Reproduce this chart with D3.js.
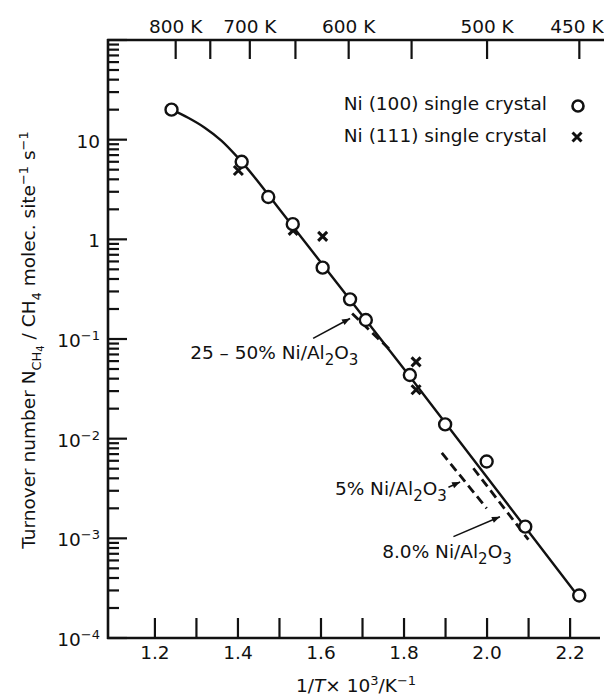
<!DOCTYPE html>
<html>
<head>
<meta charset="utf-8">
<script src="https://cdn.jsdelivr.net/npm/d3@7"></script>
<style>
body { margin: 0; background: #fff; }
svg text { font-family: "DejaVu Sans", sans-serif; font-size: 18.5px; fill: #111; }
</style>
</head>
<body>
<div class="container"></div>
<script>
const width = 604, height = 695;

// Ni (100) single crystal, 1/T x 10^3 and turnover number
const ni100X = [1.240, 1.409, 1.473, 1.532, 1.604, 1.670, 1.708, 1.814, 1.899, 1.999, 2.092, 2.222];
const ni100Y = [20, 6.0, 2.66, 1.42, 0.52, 0.25, 0.155, 0.0435, 0.0139, 0.0059, 0.00131, 0.000267];
// Ni (111) single crystal
const ni111X = [1.401, 1.533, 1.604, 1.829, 1.829];
const ni111Y = [4.9, 1.23, 1.07, 0.059, 0.031];
// smooth line drawn through the crystal data
const fitX = [1.24, 1.28, 1.32, 1.36, 1.40, 1.44, 1.50, 1.80, 2.22];
const fitY = [20, 16.6, 13.2, 9.8, 6.6, 4.2, 2.0, 0.050, 0.00026];
// supported catalysts, dashed segments
const suppNames = ["25 – 50% Ni/Al", "5% Ni/Al", "8.0% Ni/Al"];
const suppX = [[1.675, 1.766], [1.891, 1.999], [1.967, 2.0995]];
const suppY = [[0.180, 0.078], [0.0072, 0.0020], [0.00505, 0.00097]];
// where the labels end and where their arrows start / point (data units)
const labelX = [1.690, 1.903, 2.0595];
const labelY = [0.0625, 0.00273, 0.000634];
const arrowFromX = [1.581, 1.907, 1.919];
const arrowFromY = [0.1014, 0.00326, 0.00104];
const arrowToX = [1.670, 1.935, 2.031];
const arrowToY = [0.1607, 0.00368, 0.00165];

// axes
const xTicks = d3.range(12, 23).map(d => d / 10);
const xLabels = [1.2, 1.4, 1.6, 1.8, 2.0, 2.2];
const tempTicks = [800, 750, 700, 650, 600, 550, 500, 450];
const tempLabels = [800, 700, 600, 500, 450];
const yExp = [-4, -3, -2, -1, 0, 1, 2];
const yLabelExp = [-4, -3, -2, -1, 0, 1];

const mLeft = 108, mRight = 600, mTop = 40, mBottom = 638;

const svg = d3.select(".container")
    .append("svg")
    .attr("width", width)
    .attr("height", height);

const x = d3.scaleLinear().domain([1.087, 2.272]).range([mLeft, mRight]);
const y = d3.scaleLog().domain([1e-4, 1e2]).range([mBottom, mTop]);

svg.append("defs").append("marker")
    .attr("id", "arrow")
    .attr("viewBox", "0 0 10 10")
    .attr("refX", 10).attr("refY", 5)
    .attr("markerWidth", 9).attr("markerHeight", 8)
    .attr("markerUnits", "userSpaceOnUse")
    .attr("orient", "auto")
    .append("path")
    .attr("d", "M0,1 L10,5 L0,9 z")
    .attr("fill", "#111");

// text with sub/superscripts: parts = [text, size, baseline shift, italic]
function richText(sel, parts) {
    let prev = 0;
    parts.forEach(([t, size, shift, italic]) => {
        sel.append("tspan")
            .attr("dy", shift - prev)
            .style("font-size", size + "px")
            .style("font-style", italic ? "italic" : null)
            .text(t);
        prev = shift;
    });
    return sel;
}

// frame
const frame = svg.append("g").attr("stroke", "#111").attr("stroke-width", 2.6).attr("fill", "none");
frame.append("line").attr("x1", mLeft).attr("x2", mLeft).attr("y1", mTop - 1).attr("y2", mBottom + 1);
frame.append("line").attr("x1", mLeft - 1).attr("x2", width).attr("y1", mTop).attr("y2", mTop);
frame.append("line").attr("x1", mLeft - 1).attr("x2", mRight).attr("y1", mBottom).attr("y2", mBottom);

// bottom ticks
svg.append("g").selectAll("line").data(xTicks).join("line")
    .attr("x1", d => x(d)).attr("x2", d => x(d))
    .attr("y1", mBottom).attr("y2", mBottom - 20)
    .attr("stroke", "#111").attr("stroke-width", 2.2);
svg.append("g").selectAll("text").data(xLabels).join("text")
    .attr("x", d => x(d)).attr("y", 659)
    .attr("text-anchor", "middle")
    .text(d3.format(".1f"));

// top temperature ticks
svg.append("g").selectAll("line").data(tempTicks).join("line")
    .attr("x1", d => x(1000 / d)).attr("x2", d => x(1000 / d))
    .attr("y1", mTop).attr("y2", mTop + 19)
    .attr("stroke", "#111").attr("stroke-width", 2.2);
svg.append("g").selectAll("text").data(tempLabels).join("text")
    .attr("x", d => Math.min(x(1000 / d), width - 27)).attr("y", 33)
    .attr("text-anchor", "middle")
    .text(d => d + " K");

// left log ticks
const minor = [];
yExp.slice(0, -1).forEach(e => d3.range(2, 10).forEach(m => minor.push(m * Math.pow(10, e))));
svg.append("g").selectAll("line").data(minor).join("line")
    .attr("x1", mLeft).attr("x2", mLeft + 11)
    .attr("y1", d => y(d)).attr("y2", d => y(d))
    .attr("stroke", "#111").attr("stroke-width", 2.2);
svg.append("g").selectAll("line").data(yExp).join("line")
    .attr("x1", mLeft).attr("x2", mLeft + 19)
    .attr("y1", d => y(Math.pow(10, d))).attr("y2", d => y(Math.pow(10, d)))
    .attr("stroke", "#111").attr("stroke-width", 2.2);
svg.append("g").selectAll("text").data(yLabelExp).join("text")
    .attr("x", 100).attr("y", d => y(Math.pow(10, d)) + 8)
    .attr("text-anchor", "end")
    .each(function (d) {
        const t = d3.select(this);
        if (d === 0) t.text("1");
        else if (d === 1) t.text("10");
        else richText(t, [["10", 18.5, 0], ["−" + (-d), 13, -7]]);
    });

// axis titles
richText(svg.append("text")
    .attr("x", 356).attr("y", 692)
    .attr("text-anchor", "middle"),
    [["1/", 18.5, 0], ["T", 18.5, 0, true], ["× 10", 18.5, 0], ["3", 13, -7], ["/K", 18.5, 0], ["−1", 13, -7]]);

richText(svg.append("text")
    .attr("transform", "translate(35,340) rotate(-90)")
    .attr("text-anchor", "middle"),
    [["Turnover number N", 18.5, 0], ["CH", 13, 6], ["4", 10, 9], [" / CH", 18.5, 0], ["4", 13, 6],
     [" molec. site", 18.5, 0], ["−1", 13, -7], [" s", 18.5, 0], ["−1", 13, -7]]);

// fitted curve
const fit = fitX.map((d, i) => [d, fitY[i]]);
svg.append("path")
    .datum(fit)
    .attr("fill", "none").attr("stroke", "#111").attr("stroke-width", 2.4)
    .attr("d", d3.line().x(d => x(d[0])).y(d => y(d[1])).curve(d3.curveMonotoneX));

// supported catalyst dashed lines, labels and arrows
suppNames.forEach((name, i) => {
    svg.append("line")
        .attr("x1", x(suppX[i][0])).attr("y1", y(suppY[i][0]))
        .attr("x2", x(suppX[i][1])).attr("y2", y(suppY[i][1]))
        .attr("stroke", "#111").attr("stroke-width", 2.8)
        .attr("stroke-dasharray", "9,5");
    richText(svg.append("text")
        .attr("x", x(labelX[i])).attr("y", y(labelY[i]))
        .attr("text-anchor", "end"),
        [[name, 18.5, 0], ["2", 15, 6], ["O", 18.5, 0], ["3", 15, 6]]);
    svg.append("line")
        .attr("x1", x(arrowFromX[i])).attr("y1", y(arrowFromY[i]))
        .attr("x2", x(arrowToX[i])).attr("y2", y(arrowToY[i]))
        .attr("stroke", "#111").attr("stroke-width", 1.6)
        .attr("marker-end", "url(#arrow)");
});

// crystal points
const p100 = ni100X.map((d, i) => [d, ni100Y[i]]);
const p111 = ni111X.map((d, i) => [d, ni111Y[i]]);
const cross = "M-4.5,-4.5L4.5,4.5M-4.5,4.5L4.5,-4.5";

svg.append("g").selectAll("path").data(p111).join("path")
    .attr("transform", d => `translate(${x(d[0])},${y(d[1])})`)
    .attr("d", cross)
    .attr("stroke", "#111").attr("stroke-width", 3);
svg.append("g").selectAll("circle").data(p100).join("circle")
    .attr("cx", d => x(d[0])).attr("cy", d => y(d[1]))
    .attr("r", 6)
    .attr("fill", "#fff").attr("stroke", "#111").attr("stroke-width", 2.4);

// legend
const legend = svg.append("g");
legend.append("text").attr("x", 547).attr("y", 110).attr("text-anchor", "end").text("Ni (100) single crystal");
legend.append("text").attr("x", 547).attr("y", 142).attr("text-anchor", "end").text("Ni (111) single crystal");
legend.append("circle").attr("cx", 578).attr("cy", 106).attr("r", 5.5)
    .attr("fill", "#fff").attr("stroke", "#111").attr("stroke-width", 2.6);
legend.append("path").attr("transform", "translate(577,137)").attr("d", cross)
    .attr("stroke", "#111").attr("stroke-width", 3);
</script>
</body>
</html>
